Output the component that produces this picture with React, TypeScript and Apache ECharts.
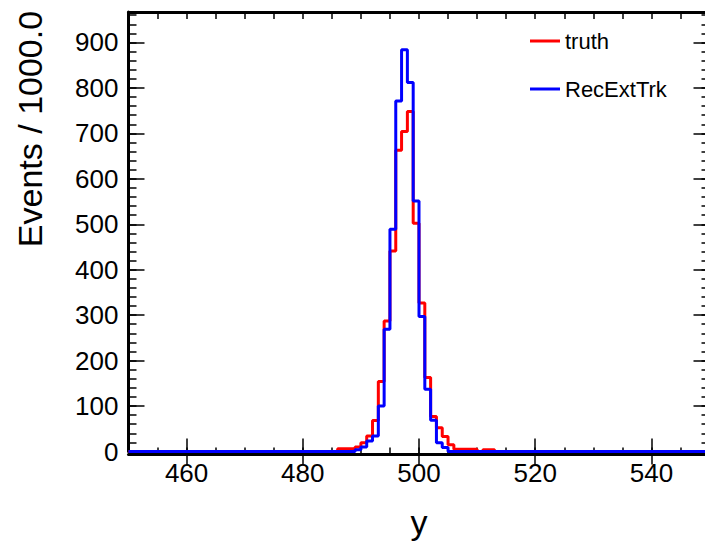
import React, { useEffect, useRef } from "react";
import * as echarts from "echarts";

// Histogram: 1-unit bins on [450, 550]; values listed for bins starting at FIRST_BIN, zero elsewhere
const X_MIN = 450;
const X_MAX = 550;
const FIRST_BIN = 485;
const truthValues = [
  0, 6, 6, 6, 10, 19, 34, 68, 154, 287, 441, 663, 704, 748, 502, 327, 163, 77, 52, 33, 15, 5, 5, 5, 5, 0, 4, 4,
];
const recExtTrkValues = [
  0, 0, 0, 0, 4, 10, 23, 34, 100, 269, 489, 771, 884, 812, 551, 297, 137, 69, 19, 9, 0, 0, 0, 0, 0, 0, 0, 0,
];
const xMajorTicks = [460, 480, 500, 520, 540];
const Y_MAX = 967;
const seriesNames = ["truth", "RecExtTrk"];
const seriesColors = ["#ff0000", "#0000ff"];

function histPoints(vals: number[]): number[][] {
  const pts: number[][] = [];
  let last = 0;
  for (let x = X_MIN; x < X_MAX; x++) {
    const i = x - FIRST_BIN;
    const v = i >= 0 && i < vals.length ? vals[i] : 0;
    pts.push([x, v]);
    last = v;
  }
  pts.push([X_MAX, last]);
  return pts;
}

const FONT = "Liberation Sans, Arial, Helvetica, sans-serif";

export default function App() {
  const ref = useRef<HTMLDivElement>(null);
  useEffect(() => {
    if (!ref.current) return;
    const chart = echarts.init(ref.current, undefined, { renderer: "svg" });
    const axisLine = { show: true, onZero: false, lineStyle: { color: "#000", width: 3 } };
    const baseX = {
      type: "value",
      min: X_MIN,
      max: X_MAX,
      splitLine: { show: false },
    };
    const baseY = {
      type: "value",
      min: 0,
      max: Y_MAX,
      splitLine: { show: false },
    };
    chart.setOption({
      animation: false,
      backgroundColor: "#fff",
      grid: {
        left: 128.5,
        top: 12,
        width: 581,
        height: 439.5,
        containLabel: false,
        outerBoundsMode: "none",
      },
      legend: {
        data: seriesNames,
        orient: "vertical",
        left: 525,
        top: 24,
        icon: "rect",
        itemWidth: 30,
        itemHeight: 3,
        itemGap: 24,
        textStyle: { fontSize: 22, fontFamily: FONT, color: "#000", lineHeight: 24 },
      },
      xAxis: [
        {
          ...baseX,
          position: "bottom",
          offset: 3,
          interval: 5,
          axisLine,
          axisTick: { show: true, inside: true, length: 7, lineStyle: { color: "#000", width: 1.5 } },
          axisLabel: {
            show: true,
            customValues: xMajorTicks,
            fontSize: 26,
            fontFamily: FONT,
            color: "#000",
            margin: 5,
          },
          name: "y",
          nameLocation: "middle",
          nameGap: 50,
          nameTextStyle: { fontSize: 34, fontFamily: FONT, color: "#000" },
        },
        {
          ...baseX,
          position: "bottom",
          offset: 3,
          axisLine: { show: false },
          axisTick: {
            show: true,
            inside: true,
            length: 13,
            customValues: xMajorTicks,
            lineStyle: { color: "#000", width: 1.5 },
          },
          axisLabel: { show: false },
        },
        {
          ...baseX,
          position: "top",
          interval: 5,
          axisLine,
          axisTick: { show: true, inside: true, length: 7, lineStyle: { color: "#000", width: 1.5 } },
          axisLabel: { show: false },
        },
        {
          ...baseX,
          position: "top",
          axisLine: { show: false },
          axisTick: {
            show: true,
            inside: true,
            length: 13,
            customValues: xMajorTicks,
            lineStyle: { color: "#000", width: 1.5 },
          },
          axisLabel: { show: false },
        },
      ],
      yAxis: [
        {
          ...baseY,
          position: "left",
          interval: 100,
          axisLine,
          axisTick: { show: true, inside: true, length: 16, lineStyle: { color: "#000", width: 1.5 } },
          axisLabel: {
            show: true,
            showMaxLabel: false,
            fontSize: 26,
            fontFamily: FONT,
            color: "#000",
            margin: 10,
          },
        },
        {
          ...baseY,
          position: "left",
          interval: 20,
          axisLine: { show: false },
          axisTick: { show: true, inside: true, length: 8, lineStyle: { color: "#000", width: 1.5 } },
          axisLabel: { show: false },
        },
        {
          ...baseY,
          position: "right",
          interval: 100,
          axisLine,
          axisTick: { show: true, inside: true, length: 16, lineStyle: { color: "#000", width: 1.5 } },
          axisLabel: { show: false },
        },
        {
          ...baseY,
          position: "right",
          interval: 20,
          axisLine: { show: false },
          axisTick: { show: true, inside: true, length: 8, lineStyle: { color: "#000", width: 1.5 } },
          axisLabel: { show: false },
        },
      ],
      graphic: [
        {
          type: "text",
          x: 30,
          y: 129,
          rotation: Math.PI / 2,
          style: {
            text: "Events / 1000.0",
            fontSize: 34,
            fontFamily: FONT,
            fill: "#000",
            align: "center",
            verticalAlign: "middle",
          },
        },
      ],
      series: [
        {
          name: seriesNames[0],
          type: "line",
          step: "end",
          xAxisIndex: 0,
          yAxisIndex: 0,
          showSymbol: false,
          symbol: "none",
          color: seriesColors[0],
          lineStyle: { color: seriesColors[0], width: 3 },
          data: histPoints(truthValues),
          z: 3,
        },
        {
          name: seriesNames[1],
          type: "line",
          step: "end",
          xAxisIndex: 0,
          yAxisIndex: 0,
          showSymbol: false,
          symbol: "none",
          color: seriesColors[1],
          lineStyle: { color: seriesColors[1], width: 3 },
          data: histPoints(recExtTrkValues),
          z: 4,
        },
      ],
    });
    return () => chart.dispose();
  }, []);
  return <div ref={ref} style={{ width: 705, height: 545, position: "absolute", left: 0, top: 0 }} />;
}
